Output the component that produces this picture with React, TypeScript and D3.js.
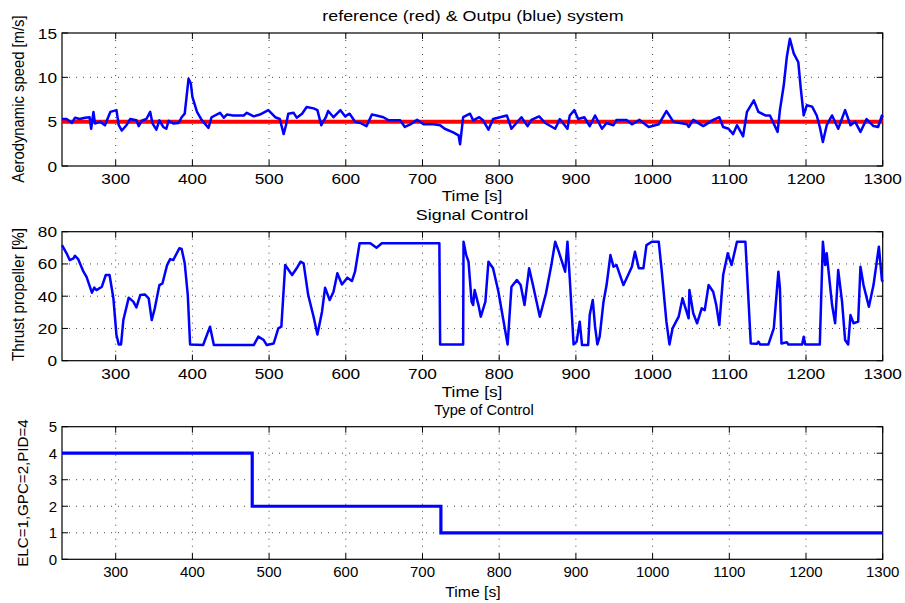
import React, { useRef, useEffect } from 'react';
import * as d3 from 'd3';

// aerodynamic speed (blue)
const speedTime = [
  230, 236, 243, 247, 253, 260, 266, 268, 271, 273, 280, 286, 293, 301, 304, 308, 314, 319, 327, 330,
  334, 340, 345, 348, 353, 357, 362, 366, 369, 375, 382, 386, 390, 395, 398, 400, 406, 412, 421, 425,
  436, 441, 445, 453, 467, 471, 480, 488, 499, 508, 514, 519, 522, 525, 532, 536, 543, 549, 558, 563,
  568, 574, 577, 584, 593, 599, 605, 612, 619, 627, 634, 640, 649, 656, 671, 677, 684, 693, 702, 714,
  723, 729, 740, 747, 749, 753, 762, 766, 774, 779, 786, 792, 801, 810, 816, 825, 829, 837, 842, 852,
  860, 873, 879, 889, 892, 898, 903, 911, 918, 925, 934, 940, 949, 953, 966, 973, 983, 995, 1008, 1018,
  1027, 1045, 1047, 1053, 1066, 1079, 1087, 1092, 1099, 1105, 1110, 1118, 1123, 1132, 1138, 1147, 1153, 1163, 1166, 1171,
  1175, 1179, 1184, 1190, 1193, 1197, 1201, 1208, 1214, 1218, 1222, 1227, 1234, 1242, 1251, 1258, 1264, 1271, 1279, 1288,
  1294, 1299, 1300,
];
const speedValues = [
  5.3, 5.3, 4.85, 5.45, 5.3, 5.45, 5.5, 4.2, 6.1, 4.8, 5.0, 4.6, 6.1, 6.3, 4.6, 4.0, 4.6, 5.3, 5.15, 4.5,
  5.1, 5.3, 6.1, 4.8, 4.1, 5.15, 4.4, 4.2, 5.1, 4.8, 4.85, 5.5, 5.9, 9.85, 9.3, 7.8, 6.1, 5.2, 4.3, 5.5,
  6.0, 5.45, 5.8, 5.7, 5.7, 6.0, 5.6, 5.8, 6.3, 5.5, 5.3, 3.6, 4.6, 5.9, 6.0, 5.45, 5.9, 6.65, 6.5, 6.3,
  4.6, 5.5, 6.2, 5.5, 6.3, 5.6, 5.9, 5.0, 4.85, 4.5, 5.8, 5.7, 5.5, 5.15, 5.15, 4.4, 4.7, 5.2, 4.7, 4.7,
  4.6, 4.2, 3.8, 3.45, 2.45, 5.5, 5.9, 5.15, 5.5, 5.15, 4.1, 5.3, 5.5, 5.7, 4.2, 5.1, 5.5, 4.5, 5.2, 5.6,
  4.85, 4.2, 5.3, 4.2, 5.7, 6.3, 5.3, 5.5, 4.5, 5.7, 4.2, 4.85, 4.6, 5.2, 5.2, 4.7, 5.2, 4.4, 4.7, 6.2,
  5.0, 4.7, 4.4, 5.2, 4.5, 5.2, 5.5, 4.4, 4.2, 3.6, 4.6, 3.35, 6.1, 7.4, 6.1, 5.7, 5.7, 3.85, 6.3, 9.1,
  12.3, 14.35, 12.7, 11.7, 8.9, 5.7, 6.85, 6.7, 5.7, 4.4, 2.7, 4.6, 5.7, 4.2, 6.3, 4.6, 5.0, 3.85, 5.3, 4.5,
  4.4, 5.7, 5.5,
];
const referenceValue = 5;

// thrust propeller [%]
const thrustTime = [
  230, 236, 240, 245, 247, 251, 258, 262, 269, 272, 275, 282, 287, 292, 297, 301, 304, 307, 310, 317,
  323, 327, 332, 338, 343, 347, 351, 357, 361, 367, 371, 375, 383, 386, 390, 394, 397, 414, 423, 428,
  480, 486, 493, 497, 506, 512, 516, 521, 530, 536, 541, 545, 551, 558, 563, 569, 573, 579, 584, 589,
  595, 602, 608, 612, 618, 632, 640, 647, 722, 723, 753, 753.5, 757, 760, 764, 766, 768, 773, 776, 782,
  786, 792, 799, 805, 811, 816, 823, 828, 833, 839, 844, 853, 861, 868, 873, 877, 886, 889, 892, 897,
  901, 905, 908, 916, 918, 922, 925, 928, 931, 936, 940, 945, 949, 953, 962, 966, 973, 977, 982, 988,
  992, 999, 1008, 1012, 1018, 1022, 1026, 1034, 1039, 1047, 1048, 1053, 1058, 1064, 1068, 1073, 1079, 1083, 1087, 1092,
  1098, 1103, 1110, 1121, 1128, 1136, 1138, 1140, 1151, 1158, 1164, 1166, 1168, 1175, 1177, 1195, 1197, 1199, 1218, 1222,
  1225, 1227, 1234, 1238, 1242, 1247, 1251, 1255, 1258, 1262, 1268, 1271, 1275, 1282, 1288, 1295, 1299, 1300,
];
const thrustValues = [
  71.7, 66.6, 62.4, 63.5, 65.1, 63, 55.2, 52, 42.2, 45.3, 43.8, 45.9, 53.1, 53.1, 38.7, 15.9, 10.1, 10.1, 25.2, 39.1,
  36.6, 33.1, 40.7, 41.1, 38.7, 25.2, 32.5, 46.9, 48, 59.3, 63, 62.4, 69.7, 69.3, 60.4, 40.7, 10.1, 9.7, 21.1, 9.7,
  9.7, 14.9, 12.8, 9.7, 10.7, 20, 21.1, 59.3, 53.1, 57.3, 61.4, 60.4, 40.7, 27.3, 16.3, 30.4, 45.3, 37.6, 42.8, 54.2,
  47.3, 51.5, 49.4, 55.2, 72.8, 72.8, 70.1, 72.8, 72.8, 10.1, 10.1, 73.8, 65.5, 61.4, 36.6, 34.5, 43.8, 34.5, 27.3, 36.6,
  61.4, 57.3, 42.8, 26.3, 10.1, 45.9, 50, 46.9, 34.5, 57.3, 46.9, 27.3, 41.8, 59.3, 73.8, 68.6, 55.2, 73.8, 51, 10.1,
  11.8, 24.2, 9.7, 9.7, 28.3, 37.6, 21.1, 10.1, 14.9, 36.6, 46.9, 65.5, 58.3, 59.3, 46.9, 51, 58.3, 67.6, 57.3, 57.3,
  71.7, 73.8, 73.8, 55.2, 24.2, 10.1, 20, 27.3, 38.7, 26.3, 43.8, 29.4, 23.2, 32.5, 31.4, 46.9, 42.8, 34.5, 22.1, 53.1,
  66.6, 59.3, 73.8, 73.8, 10.7, 10.5, 11.8, 10.1, 10.1, 20, 55.2, 44.9, 10.7, 11.4, 10.1, 10.1, 14.9, 10.1, 10.1, 73.8,
  59.3, 66.6, 34.5, 23.2, 56.2, 36.6, 12.8, 10.1, 28.3, 23.2, 24.2, 58.3, 46.9, 33.5, 46.9, 70.7, 50, 49,
];

// type of control: ELC=1, GPC=2, PID=4
const controlTime = [230, 478, 724, 1300];
const controlValues = [4, 2, 1, 1];

const timeTicks = [300, 400, 500, 600, 700, 800, 900, 1000, 1100, 1200, 1300];
const speedTicks = [0, 5, 10, 15];
const thrustTicks = [0, 20, 40, 60, 80];
const controlTicks = [0, 1, 2, 3, 4, 5];

const FONT = '"Liberation Sans", Arial, Helvetica, sans-serif';
const BLUE = '#0000ff';

export default function App() {
  const chartRef = useRef<SVGSVGElement>(null);

  useEffect(() => {
    drawChart();
  }, []);

  const drawChart = (): void => {
    const svg = d3.select(chartRef.current);
    svg.selectAll('*').remove();

    const left = 62;
    const right = 882.7;
    const xScale = d3.scaleLinear().domain([230, 1300]).range([left, right]);

    const addText = (
      str: string, x: number, y: number, size: number, anchor: string, sx: number, rotate = false, sy = 1,
    ) => {
      svg
        .append('text')
        .attr('transform', rotate
          ? `translate(${x},${y}) rotate(-90) scale(${sx},${sy})`
          : `translate(${x},${y}) scale(${sx},1)`)
        .attr('text-anchor', anchor)
        .attr('font-family', FONT)
        .attr('font-size', size)
        .attr('fill', '#000')
        .text(str);
    };

    const panel = (top: number, bottom: number, yDomain: number[], yTicks: number[], sx: number) => {
      const yScale = d3.scaleLinear().domain(yDomain).range([bottom, top]);
      const g = svg.append('g');

      // dotted grid
      g.selectAll('.gx')
        .data(timeTicks.filter((t) => t < 1300))
        .enter()
        .append('line')
        .attr('x1', (d) => xScale(d))
        .attr('x2', (d) => xScale(d))
        .attr('y1', top)
        .attr('y2', bottom)
        .attr('stroke', '#444')
        .attr('stroke-dasharray', '1,6');
      g.selectAll('.gy')
        .data(yTicks.slice(1, -1))
        .enter()
        .append('line')
        .attr('x1', left)
        .attr('x2', right)
        .attr('y1', (d) => yScale(d))
        .attr('y2', (d) => yScale(d))
        .attr('stroke', '#444')
        .attr('stroke-dasharray', '1,6');

      // inward ticks on all sides
      timeTicks.forEach((t) => {
        g.append('line').attr('x1', xScale(t)).attr('x2', xScale(t))
          .attr('y1', bottom).attr('y2', bottom - 6).attr('stroke', '#000');
        g.append('line').attr('x1', xScale(t)).attr('x2', xScale(t))
          .attr('y1', top).attr('y2', top + 6).attr('stroke', '#000');
        addText(String(t), xScale(t), bottom + 18, 15, 'middle', sx);
      });
      yTicks.forEach((v) => {
        g.append('line').attr('x1', left).attr('x2', left + 6)
          .attr('y1', yScale(v)).attr('y2', yScale(v)).attr('stroke', '#000');
        g.append('line').attr('x1', right).attr('x2', right - 6)
          .attr('y1', yScale(v)).attr('y2', yScale(v)).attr('stroke', '#000');
        addText(String(v), left - 5, yScale(v) + 5.5, 15, 'end', sx);
      });

      g.append('rect')
        .attr('x', left)
        .attr('y', top)
        .attr('width', right - left)
        .attr('height', bottom - top)
        .attr('fill', 'none')
        .attr('stroke', '#000')
        .attr('stroke-width', 1.2);

      return yScale;
    };

    // panel 1: speed
    const y1 = panel(33, 166, [0, 15], speedTicks, 1.15);
    svg.append('line')
      .attr('x1', xScale(230)).attr('x2', xScale(1300))
      .attr('y1', y1(referenceValue)).attr('y2', y1(referenceValue))
      .attr('stroke', '#ff0000').attr('stroke-width', 4);
    const speedLine = d3.line<number>()
      .x((_, i) => xScale(speedTime[i]))
      .y((d) => y1(d));
    svg.append('path')
      .attr('d', speedLine(speedValues) || '')
      .attr('fill', 'none')
      .attr('stroke', BLUE)
      .attr('stroke-width', 2.5)
      .attr('stroke-linejoin', 'round');

    // panel 2: thrust
    const y2 = panel(231.7, 360.7, [0, 80], thrustTicks, 1.15);
    const thrustLine = d3.line<number>()
      .x((_, i) => xScale(thrustTime[i]))
      .y((d) => y2(d));
    svg.append('path')
      .attr('d', thrustLine(thrustValues) || '')
      .attr('fill', 'none')
      .attr('stroke', BLUE)
      .attr('stroke-width', 2.5)
      .attr('stroke-linejoin', 'round');

    // panel 3: control type
    const y3 = panel(426.7, 559.3, [0, 5], controlTicks, 1.0);
    const controlLine = d3.line<number>()
      .x((_, i) => xScale(controlTime[i]))
      .y((d) => y3(d))
      .curve(d3.curveStepAfter);
    svg.append('path')
      .attr('d', controlLine(controlValues) || '')
      .attr('fill', 'none')
      .attr('stroke', BLUE)
      .attr('stroke-width', 3.2);

    // titles and labels
    addText('reference (red) & Outpu (blue) system', 473, 20.5, 14, 'middle', 1.28);
    addText('Time [s]', 472, 201, 15, 'middle', 1.15);
    addText('Signal Control', 472, 220, 14, 'middle', 1.28);
    addText('Time [s]', 472, 397, 15, 'middle', 1.15);
    addText('Type of Control', 484, 414.5, 14, 'middle', 1.05);
    addText('Time [s]', 473, 597, 15, 'middle', 1.05);

    addText('Aerodynamic speed [m/s]', 24, 99, 14, 'middle', 1.06, true, 1.15);
    addText('Thrust propeller [%]', 24, 294.5, 14, 'middle', 1.09, true, 1.15);
    addText('ELC=1,GPC=2,PID=4', 28, 493, 14, 'middle', 1.08, true, 1.0);
  };

  return (
    <div style={{ position: 'absolute', left: 0, top: 0 }}>
      <svg ref={chartRef} width={905} height={603} style={{ display: 'block', background: '#fff' }}></svg>
    </div>
  );
}
